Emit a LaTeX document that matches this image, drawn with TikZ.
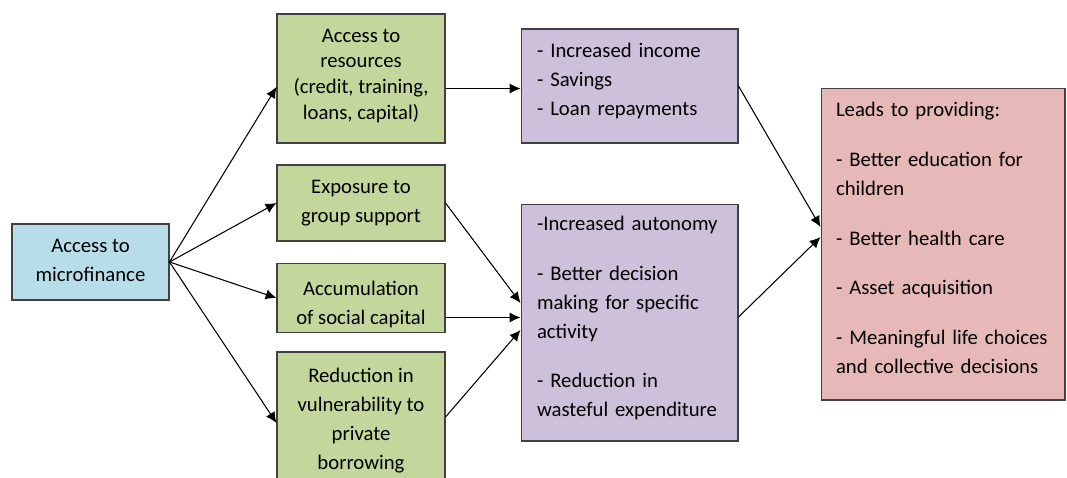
\documentclass[tikz,border=0pt]{standalone}
\usepackage{fontspec}
\setmainfont{Carlito}
\usetikzlibrary{arrows.meta}
\usetikzlibrary{positioning}

\definecolor{mfblue}{HTML}{B7DEE8}
\definecolor{resgreen}{HTML}{C3D69B}
\definecolor{outlilac}{HTML}{CCC0DA}
\definecolor{leadrose}{HTML}{E6B9B8}
\definecolor{edgegray}{HTML}{404040}

% struts to nudge a text block inside its box
\newcommand{\topstrut}[1]{\rule{0pt}{#1}}
\newcommand{\botstrut}[1]{\rule[-#1]{0pt}{#1}}

\begin{document}
\begin{tikzpicture}[x=0.02cm,y=-0.02cm,
  box/.style={draw=edgegray,line width=0.6pt,inner sep=0pt,text=black,
    font=\fontsize{11.8}{16.5}\selectfont},
  midbox/.style={box,fill=resgreen,align=center,minimum width=3.36cm},
  listbox/.style={box,align=left},
  link/.style={-{Latex[length=6.2pt,width=5.8pt]},line width=0.6pt,black}]
\useasboundingbox (0,0) rectangle (1067,477);

% start
\node[box,fill=mfblue,align=center,minimum width=3.14cm,minimum height=1.52cm]
  (micro) at (90.5,262) {Access to\\microfinance\botstrut{2pt}};

% what microfinance gives
\node[midbox,minimum height=2.58cm,font=\fontsize{11.8}{14.6}\selectfont]
  (res) at (361,78.5) {Access to\\resources\\(credit, training,\\loans, capital)\botstrut{5pt}};
\node[midbox,minimum height=1.52cm] (grp) at (361,203) {Exposure to\\group support};
\node[midbox,minimum height=1.38cm] (soc) at (361,298) {\topstrut{15pt}Accumulation\\of social capital};
\node[midbox,minimum height=2.84cm] (vul) at (361,423)
  {Reduction in\\vulnerability to\\private\\borrowing\botstrut{5pt}};

% outcomes
\node[listbox,fill=outlilac,minimum width=4.34cm,minimum height=2.28cm,text width=3.7cm]
  (inc) at (629.5,86) {- Increased income\\- Savings\\- Loan repayments\botstrut{7.5pt}};
\node[listbox,fill=outlilac,minimum width=4.34cm,minimum height=4.74cm,text width=3.7cm]
  (aut) at (629.5,322.5) {-Increased autonomy\\[11.7pt]- Better decision\\making for specific\\activity\\[11.7pt]- Reduction in\\wasteful expenditure\botstrut{7pt}};

\node[listbox,fill=leadrose,minimum width=4.88cm,minimum height=6.24cm,text width=4.28cm]
  (lead) at (943,244) {Leads to providing:\\[11.7pt]- Better education for\\children\\[11.7pt]- Better health care\\[11.7pt]- Asset acquisition\\[11.7pt]- Meaningful life choices\\and collective decisions\botstrut{7pt}};

% arrows
\draw[link] (micro.east) -- ([yshift=-0.17cm]res.west);
\draw[link] (micro.east) -- (grp.west);
\draw[link] (micro.east) -- (soc.west);
\draw[link] (micro.east) -- (vul.west);

\draw[link] ([yshift=-0.2cm]res.east) -- ([yshift=-0.2cm]res.east -| inc.west);
\draw[link] (grp.east) -- ([yshift=0.39cm]aut.west);
\draw[link] ([yshift=0.1cm]aut.west -| soc.east) -- ([yshift=0.1cm]aut.west);
\draw[link] ([yshift=0.12cm]vul.east) -- ([yshift=-0.15cm]aut.west);

\draw[link] (inc.east) -- ([yshift=0.34cm]lead.west);
\draw[link] ([yshift=0.11cm]aut.east) -- ([yshift=0.14cm]lead.west);
\end{tikzpicture}
\end{document}
